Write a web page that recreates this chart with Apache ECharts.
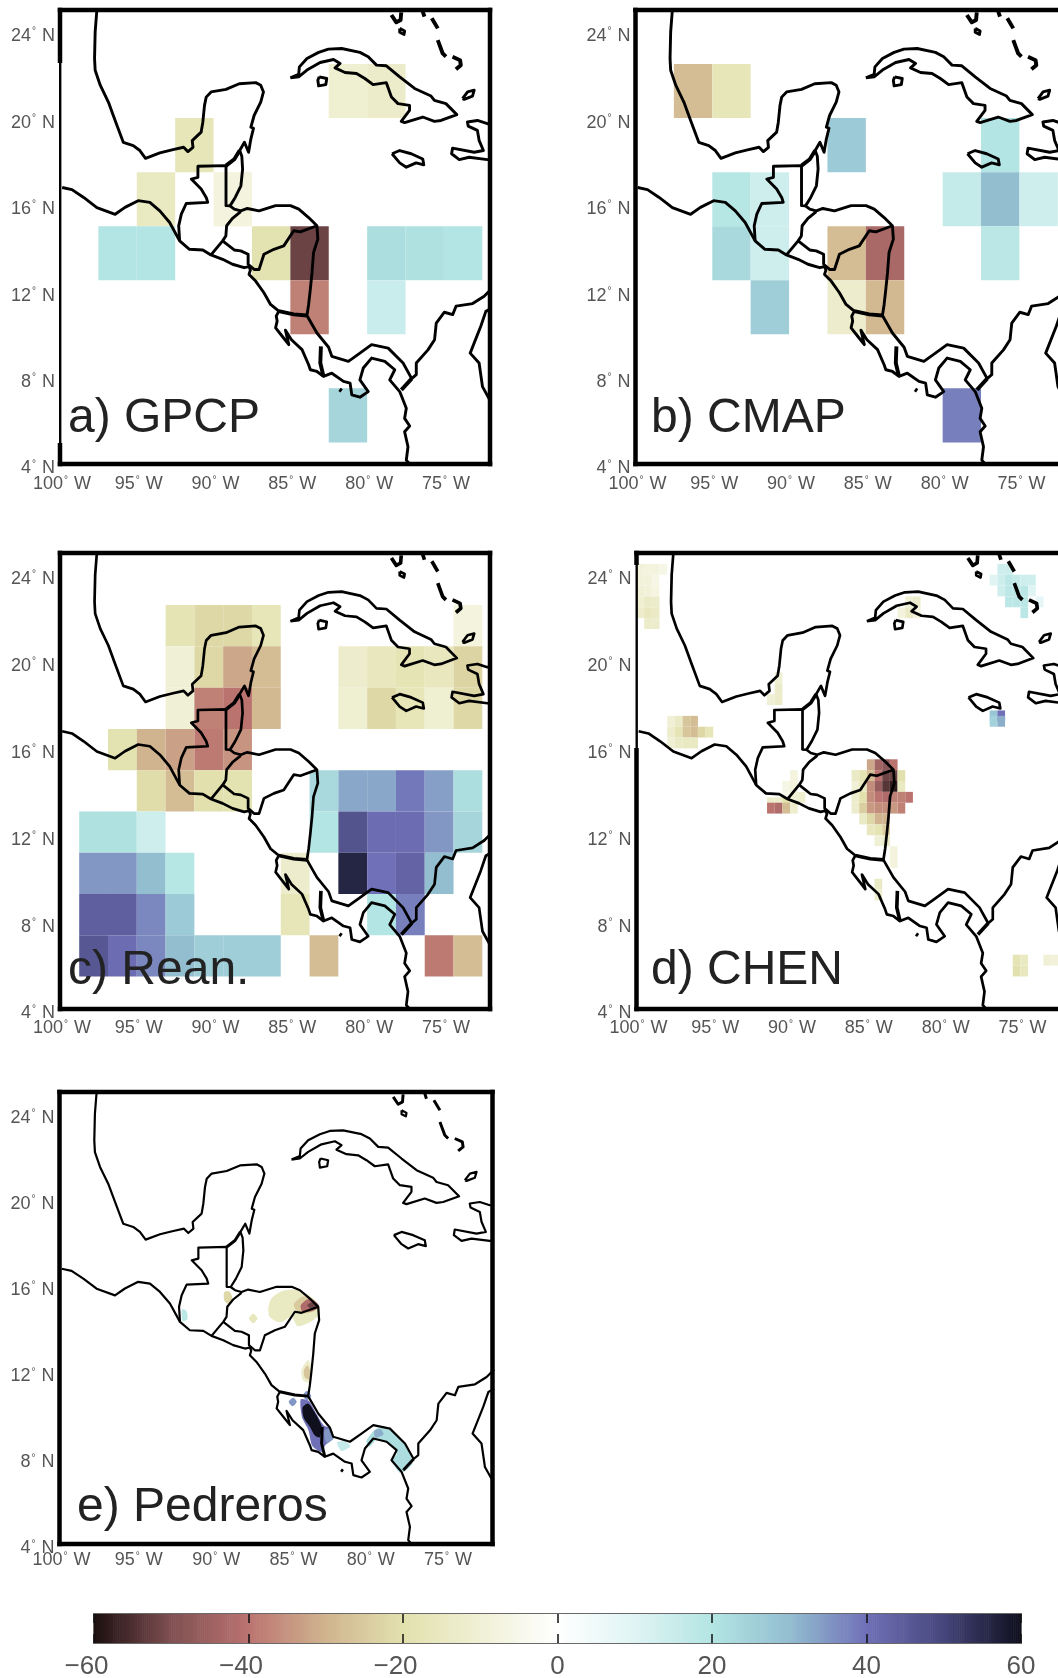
<!DOCTYPE html>
<html><head><meta charset="utf-8">
<script src="https://cdn.jsdelivr.net/npm/echarts@6/dist/echarts.min.js"></script>
<style>html,body{margin:0;padding:0;background:#fff;overflow:hidden}#c{width:1058px;height:1678px;filter:blur(0.7px)}</style>
</head><body><div id="c"></div>
<script>
// colour scale
const scaleValues=[-60,-50,-40,-30,-20,-10,0,10,20,30,40,50,60];
const scaleColors=['#1c0f10','#805052','#bb7370','#d0b48f','#e2e1ad','#f0f0d6','#ffffff','#e0f4f4','#b2e5e3','#93bed0','#7070b8','#46467c','#0f0f1e'];
const barTicks=[-60,-40,-20,0,20,40,60];
// 2.5 degree cells: columns are the west edges, rows the north edges
const coarseLons=[-97.5,-95,-92.5,-90,-87.5,-85,-82.5,-80,-77.5,-75];
const coarseLats=[22.5,20,17.5,15,12.5,10,7.5];
const _=null;
const gpcpValues=[
[_,_,_,_,_,_,-11,-13,_,_],
[_,_,-17,_,_,_,_,_,_,_],
[_,-15,_,-8,_,_,_,_,_,_],
[20,20,_,_,-19,-52,_,22,21,20],
[_,_,_,_,_,-38,_,15,_,_],
[_,_,_,_,_,_,_,_,_,_],
[_,_,_,_,_,_,24,_,_,_]];
const cmapValues=[
[-28,-17,_,_,_,_,_,_,_,_],
[_,_,_,_,27,_,_,_,20,_],
[_,19,14,_,_,_,_,16,30,14],
[_,23,14,_,-28,-43,_,_,18,_],
[_,_,26,_,-12,-29,_,_,_,_],
[_,_,_,_,_,_,_,_,_,_],
[_,_,_,_,_,_,_,38,_,_]];
// reanalysis cells
const reanLons=[-98.75,-96.875,-95,-93.125,-91.25,-89.375,-87.5,-85.625,-83.75,-81.875,-80,-78.125,-76.25,-74.375];
const reanLats=[22.6,20.7,18.8,16.9,15,13.1,11.2,9.3,7.4];
const reanValues=[
[_,_,_,-18,-22,-22,-17,_,_,_,_,_,_,-8],
[_,_,_,-10,-22,-32,-28,_,_,-12,-16,-18,-16,-23],
[_,_,_,-10,-38,-40,-29,_,_,-11,-22,-17,-11,-22],
[_,-19,-30,-33,-39,-35,_,_,_,_,_,_,_,_],
[_,_,-21,-28,-20,-19,_,_,23,33,33,39,34,22],
[21,21,14,_,_,_,_,_,20,47,41,41,35,24],
[35,35,30,19,_,_,_,-12,_,56,40,43,30,_],
[44,44,37,27,_,_,_,-17,_,_,20,38,_,_],
[46,41,37,30,26,26,26,_,-28,_,_,_,-39,-28]];
// half degree cells: west edge, north edge, value
const chenCells=[
[-100,24.5,-9],[-99.5,24.5,-8],[-99,24.5,-8],[-98.5,24.5,-6],[-100,24,-9],[-99.5,24,-9],[-99,24,-6],[-100,23.5,-10],[-99.5,23.5,-9],[-99,23.5,-7],
[-100,23,-11],[-99.5,23,-14],[-99,23,-13],[-100,22.5,-12],[-99.5,22.5,-16],[-99,22.5,-14],[-99.5,22,-13],[-99,22,-12],
[-98,17.5,-10],[-97.5,17.5,-14],[-97,17.5,-26],[-96.5,17.5,-28],[-98,17,-12],[-97.5,17,-18],[-97,17,-26],[-96.5,17,-28],[-96,17,-22],[-95.5,17,-17],
[-98,16.5,-10],[-97.5,16.5,-14],[-97,16.5,-15],[-96.5,16.5,-15],
[-91,19.5,-10],[-91,19,-13],[-91.5,18.5,-10],[-91,18.5,-13],
[-90,15,-8],[-90.5,14.5,-6],[-90,14.5,-8],[-90.5,14,-5],[-90,14,-10],[-89.5,14,-11],
[-91.5,13.75,-13],[-91,13.75,-13],[-90.5,13.75,-20],[-91.5,13.5,-40],[-91,13.5,-42],[-90.5,13.5,-28],[-90,13.5,-12],
[-85,15.5,-32],[-84.5,15.5,-44],[-84,15.5,-48],[-83.5,15.5,-40],
[-86,15,-14],[-85.5,15,-18],[-85,15,-28],[-84.5,15,-40],[-84,15,-52],[-83.5,15,-52],[-83,15,-20],
[-86,14.5,-10],[-85.5,14.5,-16],[-85,14.5,-36],[-84.5,14.5,-46],[-84,14.5,-54],[-83.5,14.5,-58],[-83,14.5,-15],
[-86,14,-12],[-85.5,14,-20],[-85,14,-36],[-84.5,14,-40],[-84,14,-42],[-83.5,14,-38],[-83,14,-38],[-82.5,14,-40],
[-86,13.5,-12],[-85.5,13.5,-24],[-85,13.5,-34],[-84.5,13.5,-36],[-84,13.5,-36],[-83.5,13.5,-34],[-83,13.5,-38],
[-85.5,13,-14],[-85,13,-22],[-84.5,13,-30],[-84,13,-30],[-85,12.5,-16],[-84.5,12.5,-18],[-84,12.5,-24],[-84.5,12,-10],[-84,12,-14],
[-83.5,11.5,-8],[-83.5,11,-8],[-84.5,10,-14],[-84.5,9.5,-12],
[-82.5,23,-10],[-82,23,-12],[-83,22.5,-8],[-82.5,22.5,-14],[-82,22.5,-8],
[-76.5,24.5,14],[-76,24.5,14],[-77,24,10],[-76.5,24,14],[-76,24,18],[-75.5,24,16],[-75,24,14],[-74.5,24,14],
[-76.5,23.5,14],[-76,23.5,18],[-75.5,23.5,18],[-75,23.5,18],[-74.5,23.5,10],[-76,23,18],[-75.5,23,18],[-75,23,18],[-74,23,8],[-75,22.5,18],
[-77,17.75,28],[-76.5,17.75,40],[-77,17.5,25],[-76.5,17.5,32],
[-75.5,6.5,-18],[-75,6.5,-15],[-75.5,6,-20],[-75,6,-16],[-73.5,6.5,-10],[-73,6.5,-9]];
// high resolution field, drawn as nested value outlines [value, [lon,lat]...]
const pedrerosAreas=[
[-15,[[-86.50,14.94],[-86.30,15.40],[-85.60,15.75],[-84.67,15.80],[-83.85,15.55],[-83.20,15.05],[-83.20,14.70],[-83.75,14.32],[-84.60,14.12],[-85.00,14.55],[-85.75,14.30],[-86.40,14.55]]],
[-25,[[-84.85,15.12],[-84.35,15.48],[-83.75,15.45],[-83.22,15.05],[-83.65,14.78],[-84.50,14.72]]],
[-42,[[-84.40,15.09],[-83.92,15.38],[-83.55,15.32],[-83.22,15.05],[-83.65,14.82],[-84.28,14.78]]],
[-52,[[-83.98,15.09],[-83.59,15.26],[-83.22,15.05],[-83.64,14.90]]],
[-16,[[-87.75,14.48],[-87.47,14.70],[-87.20,14.48],[-87.47,14.26]]],
[-22,[[-89.35,15.70],[-89.00,15.72],[-88.82,15.40],[-89.09,15.16],[-89.35,15.33]]],
[-12,[[-83.92,12.55],[-83.65,12.08],[-83.75,11.50],[-84.25,11.60],[-84.35,12.08]]],
[-26,[[-83.98,12.30],[-83.80,12.05],[-83.88,11.65],[-84.15,11.75],[-84.20,12.05]]],
[18,[[-92.08,14.90],[-91.80,14.85],[-91.72,14.45],[-92.04,14.35]]],
[35,[[-85.18,10.61],[-84.89,10.80],[-84.66,10.61],[-84.93,10.40]]],
[35,[[-84.25,10.91],[-83.98,11.12],[-83.72,10.87],[-84.02,10.68]]],
[40,[[-84.40,10.72],[-83.88,10.65],[-83.40,10.06],[-82.90,9.50],[-82.45,9.35],[-82.30,8.90],[-82.80,8.60],[-83.05,8.28],[-83.65,8.55],[-83.90,9.29],[-84.32,9.90]]],
[60,[[-84.28,10.35],[-83.90,10.52],[-83.40,10.00],[-83.05,9.44],[-83.18,8.95],[-83.50,9.05],[-83.80,9.44],[-84.20,9.85]]],
[22,[[-80.15,8.80],[-79.45,9.38],[-78.40,9.22],[-77.58,8.55],[-77.18,7.74],[-77.95,7.30],[-78.50,7.89],[-78.18,8.20],[-78.75,8.70],[-79.45,8.88],[-79.95,8.52]]],
[32,[[-79.65,9.26],[-79.24,9.34],[-79.05,9.09],[-79.58,8.95]]],
[16,[[-82.05,8.72],[-81.54,8.76],[-81.18,8.54],[-81.76,8.32]]],
[35,[[-82.90,9.26],[-82.46,9.34],[-82.28,8.90],[-82.74,8.72]]]];
// coast and border lines, lon/lat
const coastLines=[
[[-97.60,25],[-97.71,23.99],[-97.75,22.75],[-97.71,22.21],[-97.38,21.52],[-96.85,20.74],[-96.41,19.89],[-95.88,18.88],[-95.23,18.73],[-94.80,18.50],[-94.43,18.14],[-93.5,18.39],[-92.64,18.54],[-91.95,18.65],[-91.67,18.45],[-91.34,18.65],[-91.39,18.96],[-90.81,19.35],[-90.70,19.81],[-90.59,20.59],[-90.48,20.97],[-90.16,21.21],[-89.19,21.33],[-88.33,21.59],[-87.25,21.64],[-86.93,21.52],[-86.75,21.21],[-86.93,20.74],[-87.36,20.12],[-87.57,19.58],[-87.40,19.53],[-87.57,19.04],[-87.72,18.42],[-87.99,18.88],[-88.30,18.50],[-88.16,18.23],[-88.11,17.64],[-88.22,16.87],[-88.59,16.33],[-88.93,15.94],[-88.65,15.79],[-88.23,15.71],[-87.80,15.82],[-87.04,15.71],[-85.96,15.95],[-84.99,15.95],[-84.45,15.79],[-83.81,15.40],[-83.27,15.02],[-83.21,14.40],[-83.49,13.78],[-83.59,12.85],[-83.70,12.08],[-83.81,11.38],[-83.92,10.87],[-83.27,10.06],[-82.51,9.40],[-82.30,8.98],[-81.22,8.75],[-80.47,9.13],[-79.71,9.52],[-78.63,9.36],[-77.66,8.67],[-77.10,7.95],[-76.80,8.13],[-76.80,8.67],[-76.04,9.28],[-75.61,9.75],[-75.50,10.52],[-74.97,11.02],[-74.43,10.91],[-74.21,11.30],[-73.13,11.42],[-72.38,11.76],[-71.9,12.1]],
[[-99.86,16.79],[-99.22,16.69],[-98.46,16.33],[-97.60,15.86],[-96.41,15.55],[-95.77,15.87],[-94.91,16.18],[-94.15,16.10],[-93.50,15.71],[-92.86,15.17],[-92.21,14.32],[-91.57,13.93],[-90.70,13.90],[-90.17,13.67],[-89.41,13.47],[-88.77,13.24],[-88.01,13.08],[-87.69,13.13],[-87.60,12.98],[-87.69,12.77],[-87.26,12.46],[-86.72,11.92],[-86.29,11.38],[-85.75,11.07],[-85.92,10.84],[-85.86,10.61],[-85.96,10.30],[-85.53,9.91],[-85.10,9.52],[-85.32,10.19],[-84.93,9.75],[-84.24,9.29],[-83.81,8.59],[-83.70,8.36],[-83.27,8.28],[-82.84,8.05],[-82.30,8.20],[-81.54,7.82],[-81.11,7.74],[-81.00,7.20],[-80.47,7.09],[-79.93,7.35],[-80.47,7.89],[-80.25,8.44],[-79.71,8.90],[-78.85,8.75],[-78.20,8.36],[-78.53,7.89],[-77.88,7.35],[-77.45,6.58],[-77.56,6.11],[-77.23,5.76],[-77.56,5.49],[-77.34,4.80],[-77.45,4.18],[-77.23,4.0]],
[[-92.21,14.32],[-92.27,15.02],[-92.10,15.56],[-91.78,16.05],[-90.38,16.10],[-90.48,16.33],[-90.81,16.72],[-91.45,17.18],[-91.02,17.26],[-91.02,17.77],[-89.19,17.80],[-89.19,15.95],[-88.93,15.94]],
[[-89.19,17.80],[-88.65,18.10],[-88.30,18.50]],
[[-88.23,15.67],[-88.77,15.36],[-89.15,15.02],[-89.20,14.55],[-89.41,14.32],[-90.17,13.67]],
[[-89.41,14.32],[-88.66,13.90],[-88.23,13.86],[-87.75,13.70],[-87.75,13.24],[-87.36,13.00],[-87.04,13.00],[-86.72,13.70],[-86.07,13.93],[-85.43,14.09],[-84.78,14.79],[-84.35,14.74],[-83.27,15.02]],
[[-85.75,11.07],[-84.78,10.92],[-83.92,10.87]],
[[-83.01,9.44],[-83.05,8.67],[-82.84,8.05]],
[[-77.10,7.95],[-77.77,7.43]],
[[-85.00,21.86],[-84.46,22.02],[-84.41,22.37],[-83.92,22.76],[-83.16,23.04],[-82.52,23.19],[-81.66,23.22],[-80.47,23.04],[-79.93,22.84],[-79.39,22.45],[-78.75,22.42],[-77.88,21.91],[-76.91,21.37],[-75.84,21.02],[-75.62,20.82],[-74.87,20.67],[-74.16,20.16],[-75.19,19.89],[-75.62,19.85],[-76.38,20.05],[-77.56,19.79],[-77.78,19.85],[-77.24,20.36],[-77.24,20.59],[-77.99,20.67],[-78.42,20.98],[-78.75,21.64],[-79.61,21.55],[-80.15,21.83],[-80.69,22.06],[-81.44,22.11],[-82.09,22.32],[-81.76,22.53],[-82.19,22.71],[-83.06,22.57],[-83.92,22.22],[-84.46,21.91],[-85.00,21.86]],
[[-83.12,21.91],[-82.63,21.83],[-82.69,21.55],[-83.16,21.49],[-83.21,21.75],[-83.12,21.91]],
[[-78.38,18.35],[-77.88,18.5],[-77.13,18.35],[-76.38,18.11],[-76.31,17.84],[-76.81,17.93],[-77.45,17.73],[-77.88,17.93],[-78.38,18.35]],
[[-71.9,19.74],[-72.17,19.74],[-72.82,19.89],[-73.47,19.82],[-73.42,19.63],[-72.82,19.43],[-72.71,18.97],[-72.43,18.50],[-73.03,18.42],[-74.44,18.61],[-74.50,18.35],[-74.0,18.08],[-73.36,18.19],[-72.17,18.08],[-71.9,18.08]],
[[-73.79,20.9],[-73.46,21.21],[-73.03,21.29],[-73.14,21.02],[-73.68,20.87],[-73.79,20.9]],
[[-78.42,24.77],[-78.10,24.43],[-77.82,24.54],[-77.78,24.89]],
[[-77.88,24.15],[-77.56,24.03],[-77.6,23.87],[-77.88,23.97],[-77.88,24.15]],
[[-76.38,24.93],[-76.27,24.69]],
[[-75.79,24.62],[-75.4,24.15]],
[[-75.4,23.61],[-75.08,22.99],[-74.87,22.84]],
[[-74.44,22.84],[-73.95,22.68],[-73.90,22.45],[-74.22,22.26]],
[[-81.80,7.45],[-81.66,7.38]],
[[-71.9,11.2],[-72.27,11.06],[-72.60,10.37],[-73.29,9.13],[-72.71,8.67],[-72.49,7.58],[-72.0,6.95]]
];

const latTicks=[4,8,12,16,20,24];
const lonTicks=[-100,-95,-90,-85,-80,-75];
const panelNames=['a) GPCP','b) CMAP','c) Rean.','d) CHEN','e) Pedreros'];

function colorOf(v){
  let i=0; while(i<scaleValues.length-2&&v>scaleValues[i+1])i++;
  return echarts.color.lerp((i+(v-scaleValues[i])/10)/(scaleValues.length-1),scaleColors);
}
function matrixCells(lons,lats,vals){
  const out=[];
  vals.forEach((row,r)=>row.forEach((v,c)=>{if(v!==null)out.push([lons[c],lats[r],v]);}));
  return out;
}
const panels=[
 {left:60,top:10,w:430,h:454,cells:matrixCells(coarseLons,coarseLats,gpcpValues),dx:2.5,dy:2.5,lw:2.9,tx:68,ty:419,thin:[[63,443]],xm:11},
 {left:635.5,top:10,w:430,h:454,cells:matrixCells(coarseLons,coarseLats,cmapValues),dx:2.5,dy:2.5,lw:2.9,tx:651,ty:419,thin:[],xm:11},
 {left:60,top:553,w:430,h:456,cells:matrixCells(reanLons,reanLats,reanValues),dx:1.875,dy:1.9,lw:2.7,tx:68,ty:971,thin:[],xm:10},
 {left:636.5,top:553,w:430,h:456,cells:chenCells,dx:0.5,dy:0.5,lw:2.7,tx:651,ty:971,thin:[[565,748]],xm:10},
 {left:59.5,top:1092,w:433,h:452,cells:[],dx:0,dy:0,lw:2.2,tx:77,ty:1508,thin:[],xm:7}
];
const grids=[],xAxes=[],yAxes=[],series=[],graphics=[];
const lab={n:{fontFamily:'Liberation Sans',fontSize:18,color:'#555'},s:{fontFamily:'Liberation Sans',fontSize:10,color:'#555',padding:[0,1,9,1]}};
panels.forEach((p,i)=>{
  grids.push({left:p.left,top:p.top,width:p.w,height:p.h,outerBoundsMode:'none'});
  xAxes.push({gridIndex:i,type:'value',min:-100,max:-72,interval:5,splitLine:{show:false},axisLine:{show:false},axisTick:{show:false},
    axisLabel:{show:true,margin:p.xm,padding:[0,0,0,4],showMaxLabel:false,hideOverlap:false,rich:lab,formatter:v=>lonTicks.includes(v)?'{n|'+(-v)+'}{s|°}{n| W}':''}});
  yAxes.push({gridIndex:i,type:'value',min:4,max:25,interval:4,splitLine:{show:false},axisLine:{show:false},axisTick:{show:false},
    axisLabel:{show:true,margin:5,padding:[9,0,0,0],showMaxLabel:false,hideOverlap:false,rich:lab,formatter:v=>latTicks.includes(v)?'{n|'+v+'}{s|°}{n| N}':''}});
  if(p.cells.length){
    series.push({type:'custom',coordinateSystem:'cartesian2d',xAxisIndex:i,yAxisIndex:i,clip:true,silent:true,z:2,
      data:p.cells,encode:{x:0,y:1},
      renderItem:(params,api)=>{
        const a=api.coord([api.value(0),api.value(1)]),b=api.coord([api.value(0)+p.dx,api.value(1)-p.dy]);
        return {type:'rect',shape:{x:a[0],y:a[1],width:b[0]-a[0],height:b[1]-a[1]},style:{fill:colorOf(api.value(2))}};
      }});
  } else {
    series.push({type:'custom',coordinateSystem:'cartesian2d',xAxisIndex:i,yAxisIndex:i,clip:true,silent:true,z:2,
      data:pedrerosAreas.map((d,k)=>[d[1][0][0],d[1][0][1],k]),encode:{x:0,y:1},
      renderItem:(params,api)=>{
        const d=pedrerosAreas[api.value(2)];
        return {type:'polygon',shape:{points:d[1].map(q=>api.coord(q)),smooth:0.25},style:{fill:colorOf(d[0])}};
      }});
  }
  coastLines.forEach(line=>{
    series.push({type:'line',xAxisIndex:i,yAxisIndex:i,data:line,showSymbol:false,silent:true,z:3,clip:true,animation:false,
      lineStyle:{color:'#000',width:line.length<=4?p.lw*1.35:p.lw,join:'round'}});
  });
  const t=4.5;
  const R=(x,y,w,h)=>graphics.push({type:'rect',z:50,shape:{x,y,width:w,height:h},style:{fill:'#000'}});
  R(p.left-t/2,p.top-t/2,p.w+t,t);
  R(p.left-t/2,p.top+p.h-t/2,p.w+t,t);
  R(p.left+p.w-t/2,p.top-t/2,t,p.h+t);
  // left side, thin where the source line is thin
  let y0=p.top-t/2; const yEnd=p.top+p.h+t/2;
  p.thin.forEach(r=>{
    R(p.left-t/2,y0,t,r[0]-y0);
    R(p.left-1,r[0],2.4,r[1]-r[0]);
    y0=r[1];
  });
  R(p.left-t/2,y0,t,yEnd-y0);
  graphics.push({type:'text',z:60,x:p.tx,y:p.ty,style:{text:panelNames[i],fontFamily:'Liberation Sans',fontSize:48,fill:'#222',textVerticalAlign:'middle'}});
});
// colour bar
const barIdx=panels.length;
grids.push({left:94,top:1614,width:927,height:29,show:true,borderColor:'#6a6a6a',borderWidth:2,backgroundColor:'#fff',outerBoundsMode:'none',z:0});
xAxes.push({gridIndex:barIdx,type:'value',z:10,min:-60,max:60,interval:20,position:'bottom',splitLine:{show:false},axisLine:{show:false},
  axisTick:{show:true,inside:true,length:9,lineStyle:{color:'#111',width:1.5}},
  axisLabel:{margin:11,showMinLabel:true,showMaxLabel:true,hideOverlap:false,
    rich:{p:{fontFamily:'Liberation Sans',fontSize:26,color:'#555'},m:{fontFamily:'Liberation Sans',fontSize:26,color:'#555',padding:[0,15,0,0]}},
    formatter:v=>v<0?'{m|\u2212'+(-v)+'}':'{p|'+v+'}'}});
xAxes.push({gridIndex:barIdx,type:'value',z:10,min:-60,max:60,interval:20,position:'top',splitLine:{show:false},axisLine:{show:false},
  axisTick:{show:true,inside:true,length:9,lineStyle:{color:'#111',width:1.5}},axisLabel:{show:false}});
yAxes.push({gridIndex:barIdx,type:'value',min:0,max:1,show:false});
const barSteps=[]; for(let v=-60;v<60;v+=0.25)barSteps.push([v,0]);
series.push({type:'custom',coordinateSystem:'cartesian2d',xAxisIndex:barIdx,yAxisIndex:barIdx,silent:true,clip:true,z:2,data:barSteps,encode:{x:0,y:1},
  renderItem:(params,api)=>{
    const a=api.coord([api.value(0),1]),b=api.coord([api.value(0)+0.25,0]);
    return {type:'rect',shape:{x:a[0],y:a[1],width:b[0]-a[0]+0.6,height:b[1]-a[1]},style:{fill:colorOf(api.value(0)+0.125)}};
  }});
const chart=echarts.init(document.getElementById('c'),null,{renderer:'canvas'});
chart.setOption({animation:false,backgroundColor:'#fff',grid:grids,xAxis:xAxes,yAxis:yAxes,series:series,graphic:{elements:graphics}});
</script></body></html>
